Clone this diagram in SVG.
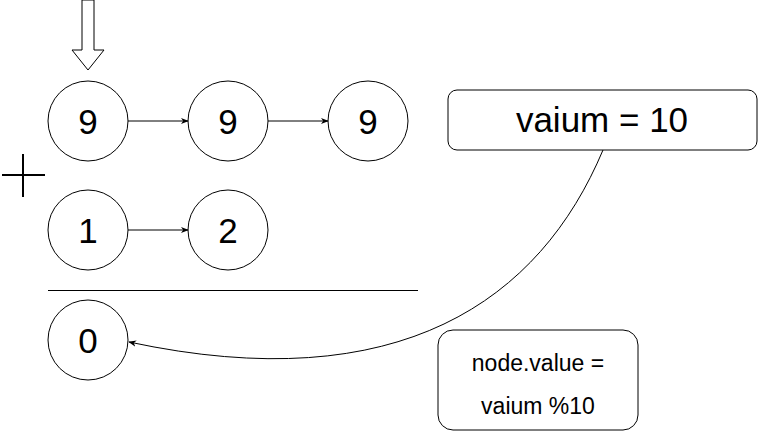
<svg xmlns="http://www.w3.org/2000/svg" width="759" height="431" viewBox="0 0 759 431">
<style>
.c{fill:#fff;stroke:#000;stroke-width:1}
.t{font-family:"Liberation Sans",Arial,sans-serif;fill:#000;text-anchor:middle}
.d{font-size:35px}
.e{stroke:#000;stroke-width:1;fill:none}
</style>
<defs>
<marker id="ah" viewBox="0 0 10 10" refX="9" refY="5" markerWidth="8" markerHeight="8" markerUnits="userSpaceOnUse" orient="auto">
<path d="M0,1 L10,5 L0,9 L3,5 Z" fill="#000"/>
</marker>
</defs>
<rect width="759" height="431" fill="#fff"/>
<g id="pointer"><path d="M82,0 H94 V50 H104 L88,70 L72,50 H82 Z" fill="#fff" stroke="#000" stroke-width="1"/></g>
<g id="plus"><path d="M2,175 H45 M23,154 V197" stroke="#000" stroke-width="2"/></g>
<g id="n9a"><circle class="c" cx="88" cy="121" r="40"/><text class="t d" x="88" y="133.5">9</text></g>
<g id="n9b"><circle class="c" cx="228" cy="121" r="40"/><text class="t d" x="228" y="133.5">9</text></g>
<g id="n9c"><circle class="c" cx="368" cy="121" r="40"/><text class="t d" x="368" y="133.5">9</text></g>
<g id="n1"><circle class="c" cx="88" cy="230" r="40"/><text class="t d" x="88" y="242.5">1</text></g>
<g id="n2"><circle class="c" cx="228" cy="230" r="40"/><text class="t d" x="228" y="242.5">2</text></g>
<g id="sep"><line x1="48" y1="290.5" x2="418" y2="290.5" stroke="#000" stroke-width="1"/></g>
<g id="n0"><circle class="c" cx="88" cy="340" r="40"/><text class="t d" x="88" y="352.5">0</text></g>
<g id="vaium"><rect class="c" x="448" y="90" width="309" height="60" rx="9"/><text class="t" style="font-size:35px" x="602" y="132">vaium = 10</text></g>
<g id="formula"><rect class="c" x="438" y="330" width="200" height="100" rx="15"/><text class="t" style="font-size:23px" x="538" y="371">node.value =</text><text class="t" style="font-size:23px" x="538" y="414">vaium %10</text></g>
<g id="connectors">
<line class="e" x1="128" y1="121" x2="188" y2="121" marker-end="url(#ah)"/>
<line class="e" x1="268" y1="121" x2="328" y2="121" marker-end="url(#ah)"/>
<line class="e" x1="128" y1="230" x2="188" y2="230" marker-end="url(#ah)"/>
<path class="e" d="M603,150 C540,300 400,400 129,342" marker-end="url(#ah)"/>
</g>
</svg>
